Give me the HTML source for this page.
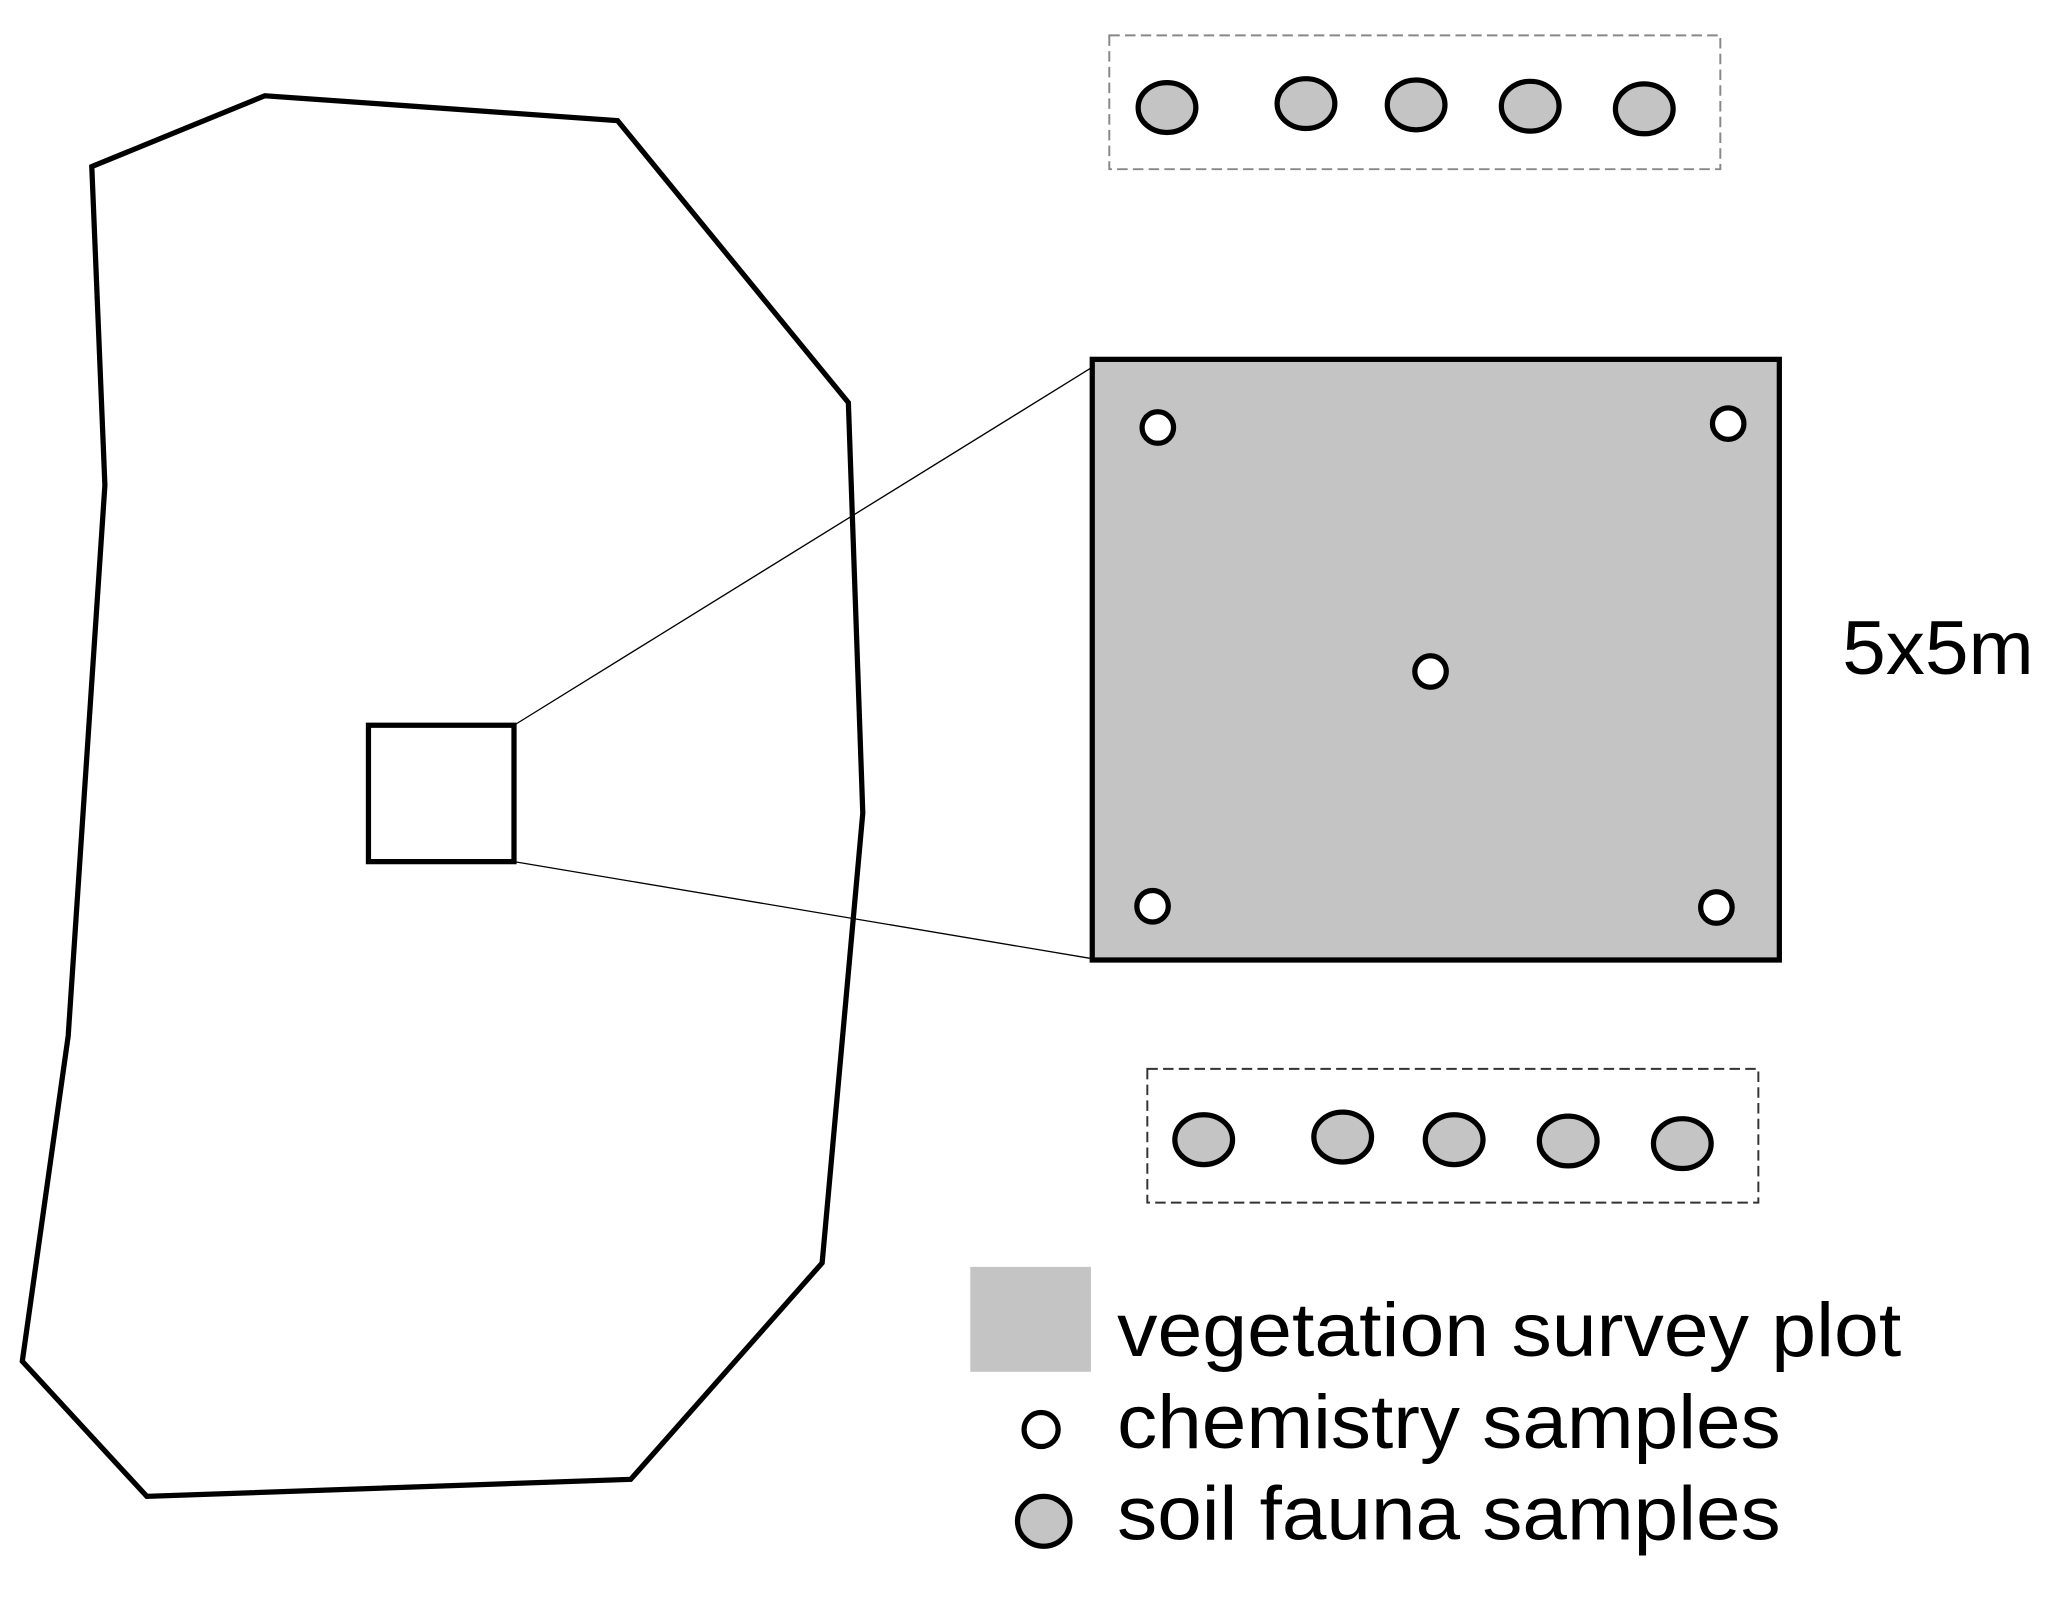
<!DOCTYPE html>
<html><head><style>html,body{margin:0;padding:0;background:#fff}svg{display:block}</style></head>
<body>
<svg width="2056" height="1600" viewBox="0 0 1568 1220" preserveAspectRatio="none" xmlns="http://www.w3.org/2000/svg">
<rect width="1568" height="1220" fill="#fff"/>
<polygon points="70,127 202,73 471,92 647,307 658,620 627,963 481,1128 112,1141 17,1038 52,790 80,370" fill="none" stroke="#000" stroke-width="4"/>
<rect x="281" y="553" width="111" height="104" fill="none" stroke="#000" stroke-width="4"/>
<line x1="392" y1="553" x2="833" y2="280" stroke="#000" stroke-width="1"/>
<line x1="392" y1="657" x2="833" y2="731" stroke="#000" stroke-width="1"/>
<rect x="833" y="274" width="524" height="458" fill="#c4c4c4" stroke="#000" stroke-width="4"/>
<g fill="#fff" stroke="#000" stroke-width="4">
<circle cx="883" cy="326" r="12"/><circle cx="1318" cy="323" r="12"/><circle cx="1091" cy="512" r="12"/>
<circle cx="879" cy="691" r="12"/><circle cx="1309" cy="692" r="12"/>
<circle cx="794" cy="1090" r="13"/>
</g>
<rect x="846" y="27" width="466" height="102" fill="none" stroke="#888" stroke-width="1.5" stroke-dasharray="8,4"/>
<rect x="875" y="815" width="466" height="102" fill="none" stroke="#333" stroke-width="1.5" stroke-dasharray="8,4"/>
<g fill="#c4c4c4" stroke="#000" stroke-width="4">
<ellipse cx="890" cy="82" rx="22" ry="19"/><ellipse cx="996" cy="79" rx="22" ry="19"/><ellipse cx="1080" cy="80" rx="22" ry="19"/><ellipse cx="1167" cy="81" rx="22" ry="19"/><ellipse cx="1254" cy="83" rx="22" ry="19"/>
<ellipse cx="918" cy="869" rx="22" ry="19"/><ellipse cx="1024" cy="867" rx="22" ry="19"/><ellipse cx="1109" cy="869" rx="22" ry="19"/><ellipse cx="1196" cy="870" rx="22" ry="19"/><ellipse cx="1283" cy="872" rx="22" ry="19"/>
<ellipse cx="796" cy="1160" rx="20" ry="19"/>
</g>
<rect x="740" y="966" width="92" height="80" fill="#c4c4c4"/>
<g font-family="Liberation Sans, sans-serif" font-size="58" fill="#000">
<text x="1405" y="514" textLength="146" lengthAdjust="spacingAndGlyphs">5x5m</text>
<text x="852" y="1034" textLength="598" lengthAdjust="spacingAndGlyphs">vegetation survey plot</text>
<text x="852" y="1104" textLength="506" lengthAdjust="spacingAndGlyphs">chemistry samples</text>
<text x="852" y="1174" textLength="506" lengthAdjust="spacingAndGlyphs">soil fauna samples</text>
</g>
</svg>
</body></html>
